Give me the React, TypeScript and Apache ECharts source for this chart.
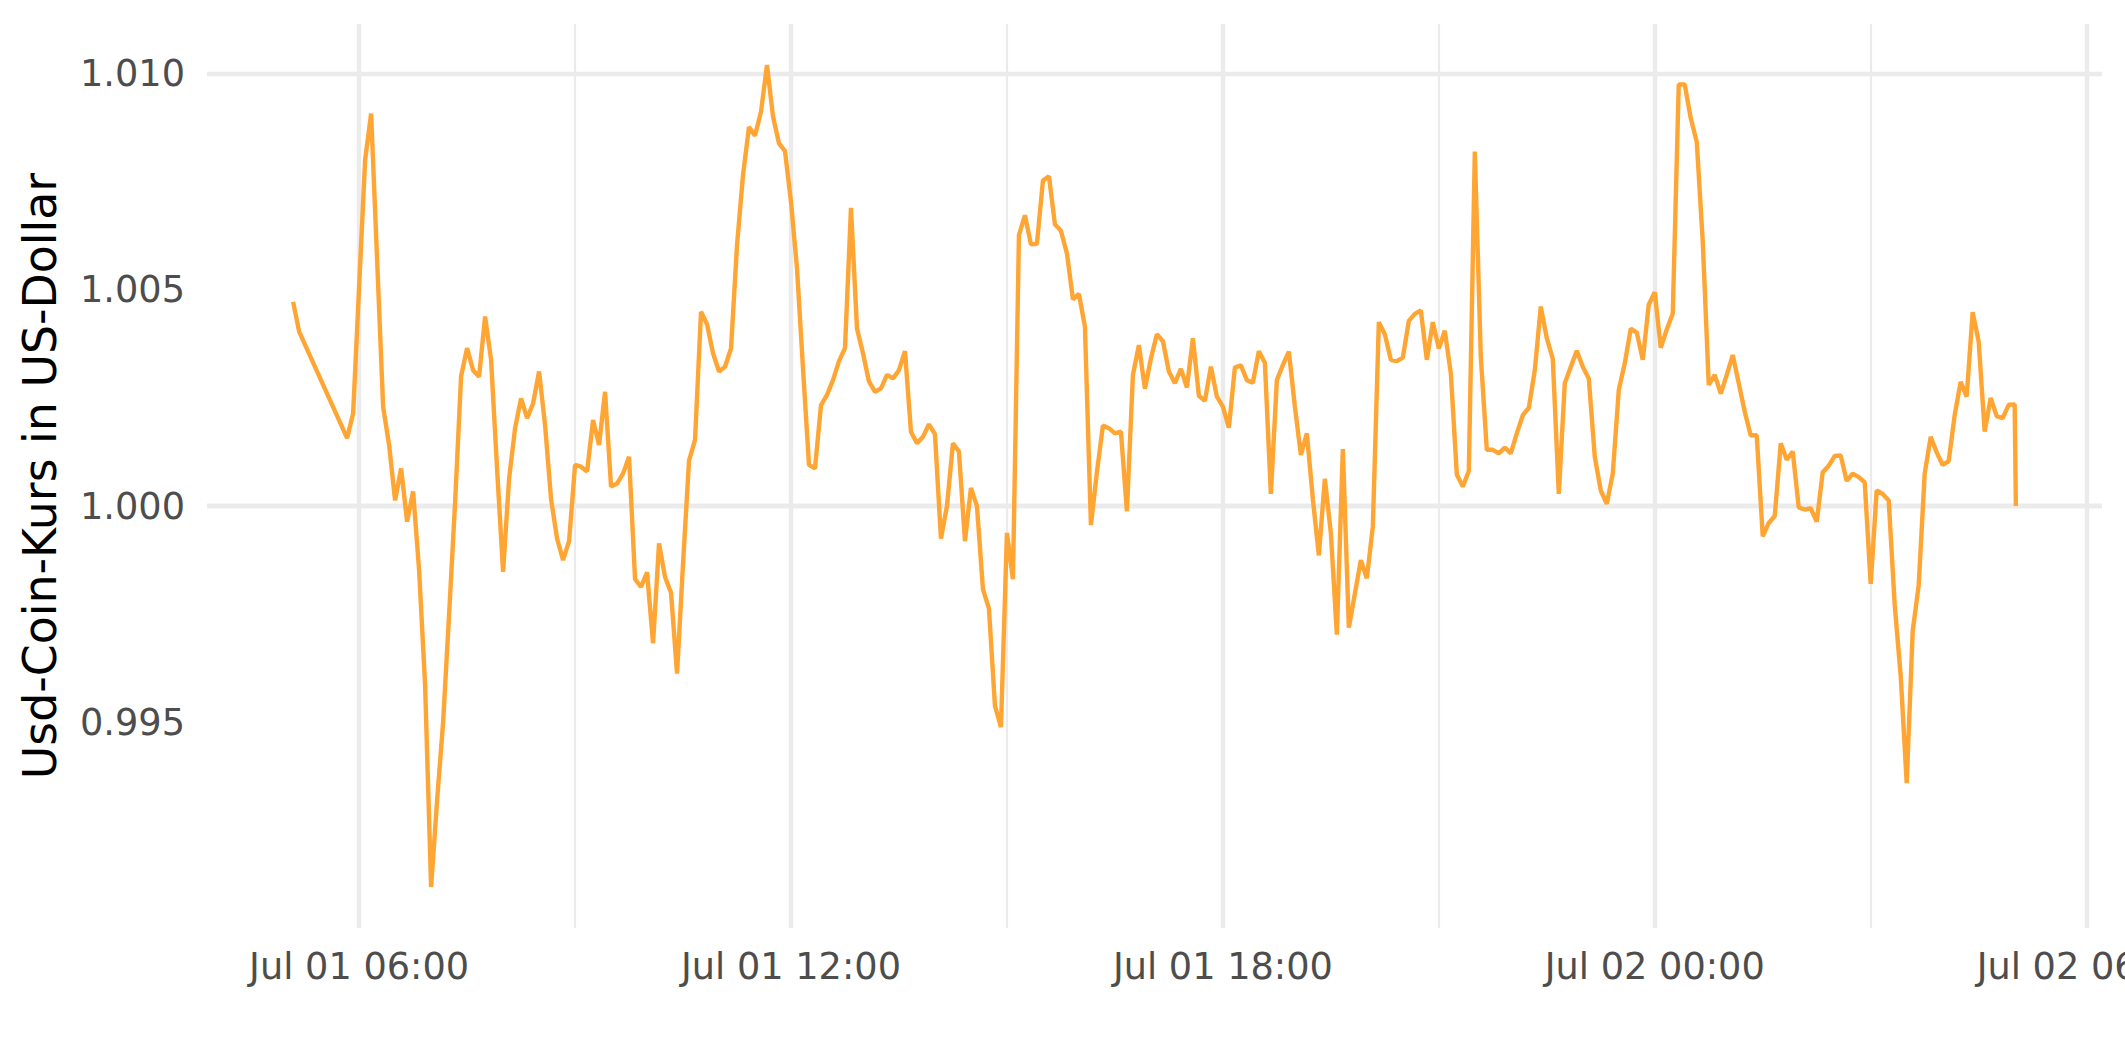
import React, { useEffect, useRef } from "react";
import * as echarts from "echarts";

// minutes since Jul 01 00:00 for each observation
const minutesSinceJul01 = [
  305, 310, 350, 355, 365, 370, 380, 385, 390, 395, 400, 405, 410, 415,
  420, 425, 430, 435, 440, 445, 450, 455, 460, 465, 470, 475,
  480, 485, 490, 495, 500, 505, 510, 515, 520, 525, 530, 535,
  540, 545, 550, 555, 560, 565, 570, 575, 580, 585, 590, 595,
  600, 605, 610, 615, 620, 625, 630, 635, 640, 645, 650, 655,
  660, 665, 670, 675, 680, 685, 690, 695, 700, 705, 710, 715,
  720, 725, 730, 735, 740, 745, 750, 755, 760, 765, 770, 775,
  780, 785, 790, 795, 800, 805, 810, 815, 820, 825, 830, 835,
  840, 845, 850, 855, 860, 865, 870, 875, 880, 885, 890, 895,
  900, 905, 910, 915, 920, 925, 930, 935, 940, 945, 950, 955,
  960, 965, 970, 975, 980, 985, 990, 995, 1000, 1005, 1010, 1015,
  1020, 1025, 1030, 1035, 1040, 1045, 1050, 1055, 1060, 1065, 1070, 1075,
  1080, 1085, 1090, 1095, 1100, 1105, 1110, 1115, 1120, 1125, 1130, 1135,
  1140, 1145, 1150, 1155, 1160, 1165, 1170, 1175, 1180, 1185, 1190, 1195,
  1200, 1205, 1210, 1215, 1220, 1225, 1230, 1235, 1240, 1245, 1250, 1255,
  1260, 1265, 1270, 1275, 1280, 1285, 1290, 1295, 1300, 1305, 1310, 1315,
  1320, 1325, 1330, 1335, 1340, 1345, 1350, 1355, 1360, 1365, 1370, 1375,
  1380, 1385, 1390, 1395, 1400, 1405, 1410, 1415, 1420, 1425, 1430, 1435,
  1440, 1445, 1450, 1455, 1460, 1465, 1470, 1475, 1480, 1485, 1490, 1495,
  1500, 1505, 1510, 1515, 1520, 1525, 1530, 1535, 1540, 1545, 1550, 1555,
  1560, 1565, 1570, 1575, 1580, 1585, 1590, 1595, 1600, 1605, 1610, 1615,
  1620, 1625, 1630, 1635, 1640, 1645, 1650, 1655, 1660, 1665, 1670, 1675,
  1680, 1685, 1690, 1695, 1700, 1705, 1710, 1715, 1720, 1725, 1730, 1735,
  1740, 1741,
];

const usdcPrice = [
  1.00472, 1.00403, 1.00157, 1.00214, 1.0080, 1.00907, 1.0023, 1.00141, 1.00013, 1.00087, 0.99964, 1.00034, 0.99852, 0.99586,
  0.9912, 0.9932, 0.995, 0.9975, 1.00008, 1.003, 1.00365, 1.00314, 1.00299, 1.00438, 1.00338, 1.00086,
  0.99848, 1.00063, 1.0018, 1.00249, 1.00203, 1.00237, 1.00311, 1.00187, 1.00016, 0.99925, 0.99875, 0.99919,
  1.00095, 1.00091, 1.0008, 1.00199, 1.00141, 1.00264, 1.00045, 1.00052, 1.00075, 1.00114, 0.99831, 0.99813,
  0.99847, 0.99683, 0.99914, 0.99836, 0.998, 0.99613, 0.99867, 1.00105, 1.00153, 1.00449, 1.0042, 1.00353,
  1.00311, 1.00322, 1.00364, 1.00603, 1.00765, 1.00876, 1.00856, 1.00911, 1.01019, 1.009, 1.00838, 1.0082,
  1.00703, 1.00549, 1.00318, 1.00095, 1.00087, 1.00233, 1.00257, 1.00291, 1.00335, 1.00365, 1.00689, 1.0041,
  1.00353, 1.00288, 1.00264, 1.00272, 1.00303, 1.00295, 1.00314, 1.00358, 1.00172, 1.00145, 1.0016, 1.00189,
  1.00166, 0.99925, 1.0, 1.00145, 1.00126, 0.99919, 1.00042, 1.0, 0.99808, 0.99763, 0.99539, 0.99489,
  0.99938, 0.99831, 1.00626, 1.00672, 1.00605, 1.00606, 1.00752, 1.00762, 1.00651, 1.00636, 1.00584, 1.00478,
  1.0049, 1.00415, 0.99956, 1.00078, 1.00186, 1.0018, 1.00168, 1.00172, 0.99988, 1.00303, 1.00372, 1.00271,
  1.00341, 1.00397, 1.00381, 1.00311, 1.00284, 1.00317, 1.00274, 1.00388, 1.00255, 1.00243, 1.00322, 1.00253,
  1.0023, 1.00181, 1.0032, 1.00325, 1.00291, 1.00285, 1.00358, 1.00331, 1.00028, 1.00291, 1.00326, 1.00357,
  1.0023, 1.00118, 1.00168, 1.00016, 0.99886, 1.00063, 0.99938, 0.99703, 1.00132, 0.99719, 0.99797, 0.99875,
  0.99833, 0.99953, 1.00425, 1.00397, 1.00338, 1.00335, 1.00343, 1.00428, 1.00444, 1.00452, 1.00338, 1.00425,
  1.00364, 1.00405, 1.00307, 1.00073, 1.00045, 1.00081, 1.00819, 1.00345, 1.0013, 1.0013, 1.00122, 1.00135,
  1.00122, 1.00168, 1.0021, 1.00227, 1.00314, 1.00461, 1.00388, 1.0034, 1.00028, 1.00284, 1.00322, 1.00359,
  1.00322, 1.00295, 1.00114, 1.00036, 1.00005, 1.00075, 1.00268, 1.0033, 1.0041, 1.00401, 1.00338, 1.00466,
  1.00494, 1.00366, 1.00408, 1.00445, 1.00974, 1.00974, 1.00896, 1.00842, 1.00611, 1.0028, 1.00303, 1.0026,
  1.00303, 1.00349, 1.00284, 1.00218, 1.00163, 1.00164, 0.9993, 0.99961, 0.99977, 1.00145, 1.00107, 1.00126,
  0.99997, 0.99992, 0.99995, 0.99964, 1.00078, 1.00093, 1.00116, 1.00117, 1.00058, 1.00075, 1.00067, 1.00055,
  0.9982, 1.00036, 1.00028, 1.00013, 0.99772, 0.99608, 0.9936, 0.99711, 0.99817, 1.00075, 1.0016, 1.00124,
  1.00095, 1.00104, 1.0021, 1.00287, 1.00253, 1.00448, 1.0038, 1.00172, 1.0025, 1.00208, 1.00203, 1.00234,
  1.00235, 1.0,
];

const xMajorMinutes = [360, 720, 1080, 1440, 1800];
const xMinorMinutes = [540, 900, 1260, 1620];
const yMajorTicks = [0.995, 1.0, 1.005, 1.01];
const yMinorTicks = [0.9925, 0.9975, 1.0025, 1.0075];
const monthLabel = "Jul";
const yTitle = "Usd-Coin-Kurs in US-Dollar";

const pad = (n: number) => (n < 10 ? "0" + n : "" + n);
const formatMinute = (m: number) => {
  const mm = Math.round(m);
  const day = Math.floor(mm / 1440) + 1;
  const h = Math.floor((mm % 1440) / 60);
  const mi = mm % 60;
  return `${monthLabel} ${pad(day)} ${pad(h)}:${pad(mi)}`;
};

export default function App() {
  const ref = useRef<HTMLDivElement>(null);
  useEffect(() => {
    if (!ref.current) return;
    const chart = echarts.init(ref.current, null, { renderer: "svg" });
    const data = minutesSinceJul01.map((m, i) => [m, usdcPrice[i]]);
    const tMin = Math.min(...minutesSinceJul01);
    const tMax = Math.max(...minutesSinceJul01);
    const xPad = (tMax - tMin) * 0.05;
    const vMin = Math.min(...usdcPrice);
    const vMax = Math.max(...usdcPrice);
    const yPad = (vMax - vMin) * 0.05;

    const grid = "#EBEBEB";
    const gridLines: any[] = [
      ...xMinorMinutes.map((m) => ({ xAxis: m, lineStyle: { color: grid, width: 2.2, type: "solid" } })),
      ...yMinorTicks.map((v) => ({ yAxis: v, lineStyle: { color: grid, width: 2.2, type: "solid" } })),
      ...xMajorMinutes.map((m) => ({ xAxis: m, lineStyle: { color: grid, width: 4.4, type: "solid" } })),
      ...yMajorTicks.map((v) => ({ yAxis: v, lineStyle: { color: grid, width: 4.4, type: "solid" } })),
    ];

    chart.setOption({
      animation: false,
      backgroundColor: "#FFFFFF",
      grid: {
        left: 207,
        right: 23,
        top: 24,
        bottom: 134,
        containLabel: false,
        outerBoundsMode: "none",
      },
      xAxis: {
        type: "value",
        min: tMin - xPad,
        max: tMax + xPad,
        axisLine: { show: false },
        axisTick: { show: false },
        splitLine: { show: false },
        axisLabel: {
          customValues: xMajorMinutes,
          formatter: (v: number) => formatMinute(v),
          color: "#4D4D4D",
          fontSize: 36.7,
          fontFamily: "DejaVu Sans",
          margin: 20,
          hideOverlap: false,
        },
      },
      yAxis: {
        type: "value",
        min: vMin - yPad,
        max: vMax + yPad,
        axisLine: { show: false },
        axisTick: { show: false },
        splitLine: { show: false },
        axisLabel: {
          customValues: yMajorTicks,
          formatter: (v: number) => v.toFixed(3),
          color: "#4D4D4D",
          fontSize: 36.7,
          fontFamily: "DejaVu Sans",
          margin: 22,
        },
      },
      graphic: [
        {
          type: "text",
          x: 40,
          y: 476,
          rotation: Math.PI / 2,
          style: {
            text: yTitle,
            fontSize: 45.8,
            fontFamily: "DejaVu Sans",
            fill: "#000000",
            textAlign: "center",
            textVerticalAlign: "middle",
          },
        },
      ],
      series: [
        {
          type: "line",
          data,
          showSymbol: false,
          symbol: "none",
          z: 3,
          lineStyle: { color: "#FFA533", width: 4.4 },
          markLine: {
            silent: true,
            symbol: "none",
            z: 1,
            label: { show: false },
            data: gridLines,
          },
        },
      ],
    });
    return () => chart.dispose();
  }, []);
  return (
    <div
      ref={ref}
      style={{ position: "fixed", left: 0, top: 0, width: 2125, height: 1062, background: "#fff" }}
    />
  );
}
